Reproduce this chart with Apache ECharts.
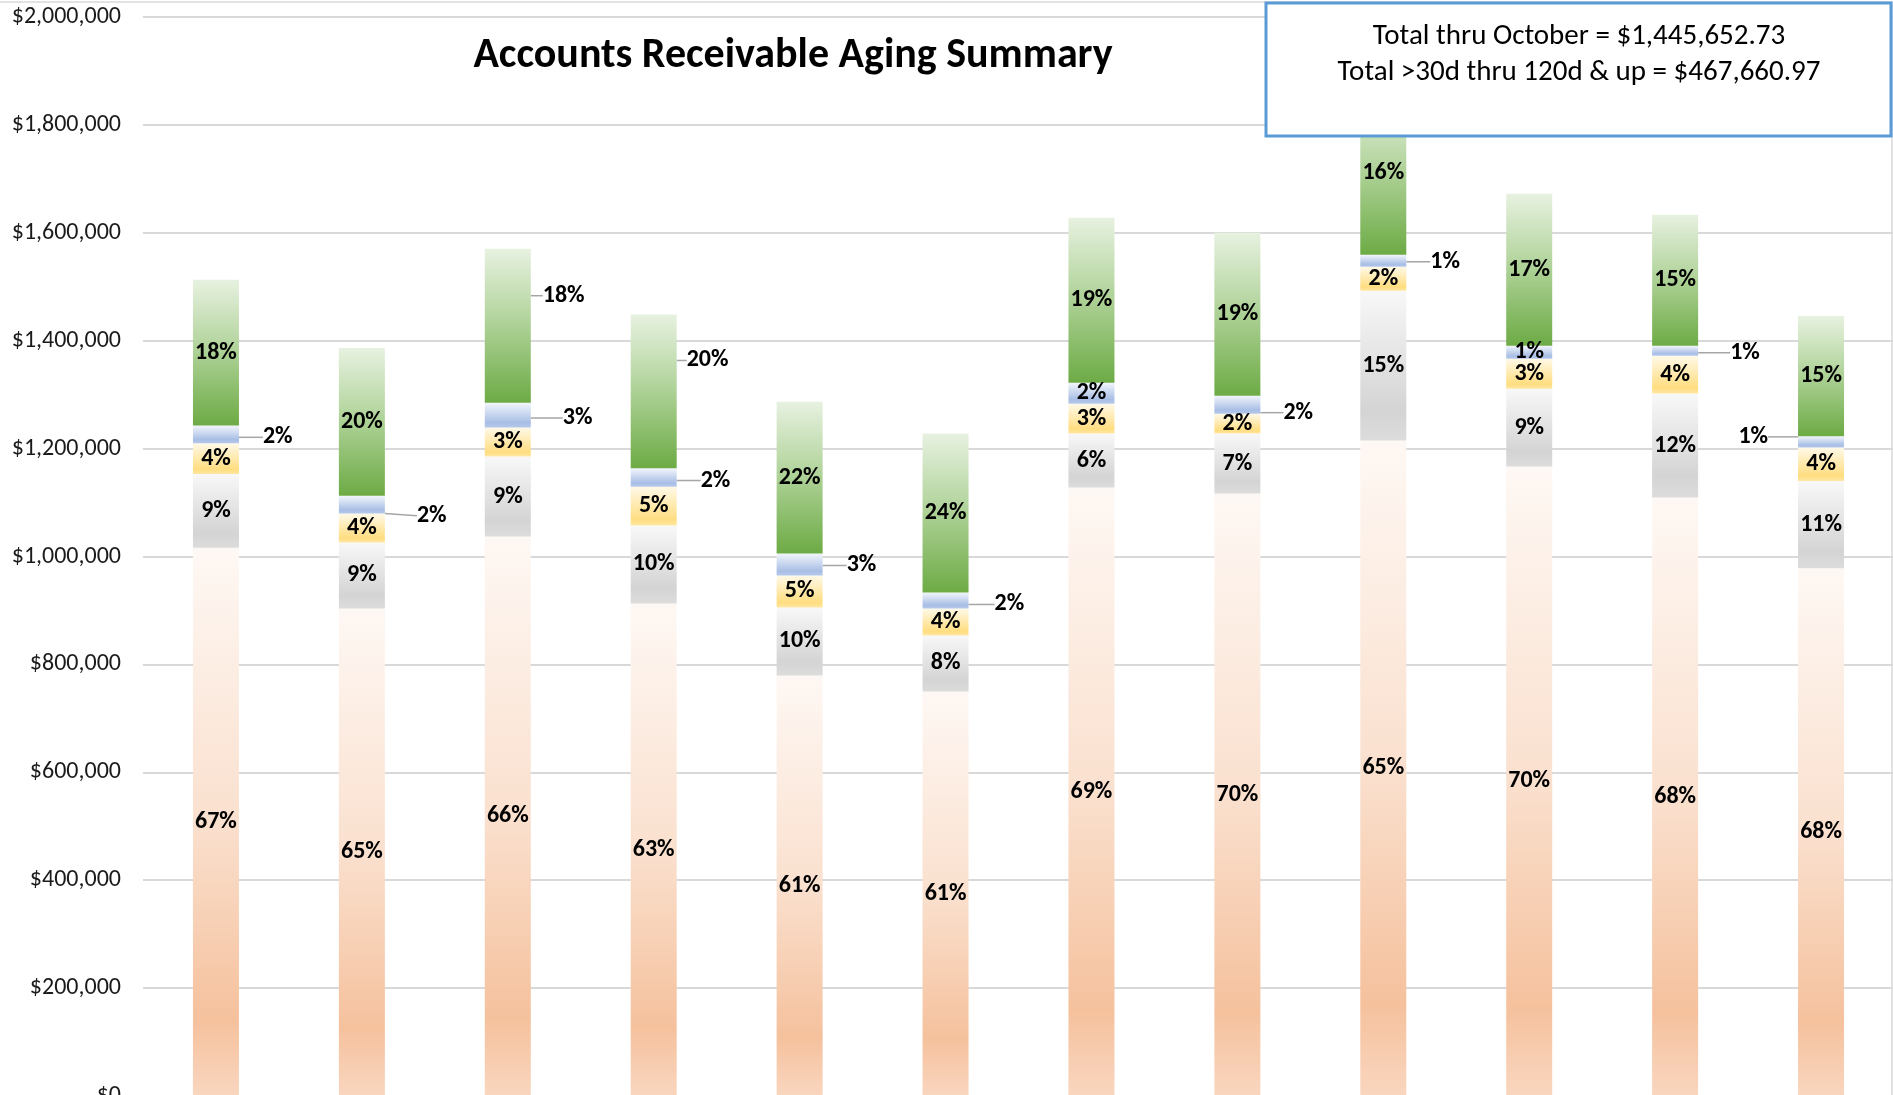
<!DOCTYPE html>
<html>
<head>
<meta charset="utf-8">
<script src="https://cdn.jsdelivr.net/npm/echarts@6/dist/echarts.min.js"></script>
<style>
html,body{margin:0;padding:0;background:#fff;}
#chart{width:1893px;height:1095px;}
</style>
</head>
<body>
<div id="chart"></div>
<script>
// ---- data ----
const months = ['Nov','Dec','Jan','Feb','Mar','Apr','May','Jun','Jul','Aug','Sep','Oct'];
const seriesNames = ['Current','31-60 Days','61-90 Days','91-120 Days','120 Days & Up'];
const current = [1016000, 903700, 1037000, 913000, 779600, 750000, 1127800, 1116700, 1214800, 1166700, 1109300, 977991.76];
const d30     = [137000, 122200, 148200, 144400, 126000, 103700, 100000, 111100, 277800, 144400, 192600, 162000];
const d60     = [57000, 53700, 53700, 72000, 59200, 50000, 55500, 37000, 44400, 55600, 70300, 62000];
const d90     = [33000, 33000, 46300, 34000, 40800, 29600, 38900, 33300, 22300, 24000, 18500, 21000];
const d120    = [270000, 274000, 285200, 285000, 281400, 294500, 305600, 301900, 302000, 281500, 242600, 222660.97];
const yTicks  = [0, 200000, 400000, 600000, 800000, 1000000, 1200000, 1400000, 1600000, 1800000, 2000000];
const titleText = 'Accounts Receivable Aging Summary';

// ---- helpers ----
const all = [current, d30, d60, d90, d120];
const totals = months.map((m, i) => all.reduce((s, a) => s + a[i], 0));
const pct = (p) => Math.round(p.value / totals[p.dataIndex] * 100) + '%';
const money = (v) => '$' + v.toLocaleString('en-US', {minimumFractionDigits: 2, maximumFractionDigits: 2});
const last = months.length - 1;
const totalLast = totals[last];
const over30Last = d30[last] + d60[last] + d90[last] + d120[last];

const FONT = 'Carlito, Calibri, Lato, "Noto Sans", sans-serif';

function grad(stops) {
  return new echarts.graphic.LinearGradient(0, 0, 0, 1,
    stops.map(s => ({offset: s[0], color: s[1]})));
}
const fills = [
  grad([[0,'#FEF8F4'],[0.5,'#FAE0CE'],[0.86,'#F5C19D'],[1,'#F9D6BF']]),
  grad([[0,'#F8F8F8'],[0.8,'#D4D4D4'],[1,'#DCDCDC']]),
  grad([[0,'#FFF9E8'],[0.85,'#FFDD80'],[1,'#FFE7A3']]),
  grad([[0,'#F3F6FC'],[0.8,'#A8BEE5'],[1,'#B6C9EA']]),
  grad([[0,'#E7F1E0'],[0.4,'#B9D8A5'],[1,'#6DAB45']])
];

// outside label placement (gap from bar edge, vertical shift)
const outside = {
  3: {0:[19,3],1:[27,11],2:[27,3],3:[19,3],4:[19,1],5:[21,4],7:[18,8],8:[19,1],10:[27,2],11:[-25,-5]},
  4: {2:[7,-30],3:[5,-31]}
};

const labelBase = {show: true, formatter: pct, color: '#000', fontFamily: FONT, fontWeight: 'bold', fontSize: 24};

const series = all.map((arr, si) => {
  const out = outside[si] || {};
  return {
    name: seriesNames[si],
    type: 'bar',
    stack: 'aging',
    barWidth: 46,
    itemStyle: {color: fills[si]},
    label: Object.assign({position: 'inside'}, labelBase),
    labelLine: {show: !!outside[si], lineStyle: {color: '#A6A6A6', width: 1.5}},
    labelLayout: function (p) {
      const o = out[p.dataIndex];
      if (!o) return {};
      return {dx: o[0], dy: o[1]};
    },
    emphasis: {disabled: true},
    data: arr.map((v, i) => {
      const o = out[i];
      if (!o) return {value: v};
      return {value: v, label: {position: o[0] < 0 ? 'left' : 'right', distance: 5}};
    })
  };
});

const chart = echarts.init(document.getElementById('chart'), null, {renderer: 'canvas'});
chart.setOption({
  animation: false,
  backgroundColor: '#fff',
  grid: {left: 143, right: -1, top: 17, bottom: -1, containLabel: false, outerBoundsMode: 'none'},
  xAxis: {
    type: 'category', data: months,
    axisLine: {show: false}, axisTick: {show: false}, axisLabel: {show: false}
  },
  yAxis: {
    type: 'value', min: yTicks[0], max: yTicks[yTicks.length - 1], interval: yTicks[1] - yTicks[0],
    axisLine: {show: false}, axisTick: {show: false},
    axisLabel: {
      formatter: v => '$' + v.toLocaleString('en-US'),
      fontFamily: FONT, fontSize: 24, color: '#1a1a1a', margin: 22
    },
    splitLine: {lineStyle: {color: '#D9D9D9', width: 2}}
  },
  series: series,
  graphic: [
    {type: 'rect', z: 0, silent: true, shape: {x: -5, y: 2, width: 1897, height: 1200},
     style: {fill: 'none', stroke: '#D9D9D9', lineWidth: 1.5}},
    {type: 'text', z: 100, x: 793, y: 56, silent: true,
     style: {text: titleText, fontFamily: FONT, fontWeight: 'bold', fontSize: 42, fill: '#000',
             textAlign: 'center', textVerticalAlign: 'middle'}},
    {type: 'rect', z: 100, silent: true, shape: {x: 1266, y: 3, width: 625, height: 133},
     style: {fill: '#fff', stroke: '#5B9BD5', lineWidth: 3}},
    {type: 'text', z: 101, x: 1579, y: 37, silent: true,
     style: {text: 'Total thru ' + 'October' + ' = ' + money(totalLast), fontFamily: FONT, fontSize: 29, fill: '#000',
             textAlign: 'center', textVerticalAlign: 'middle'}},
    {type: 'text', z: 101, x: 1579, y: 73, silent: true,
     style: {text: 'Total >30d thru 120d & up = ' + money(over30Last), fontFamily: FONT, fontSize: 29, fill: '#000',
             textAlign: 'center', textVerticalAlign: 'middle'}}
  ]
});
</script>
</body>
</html>
